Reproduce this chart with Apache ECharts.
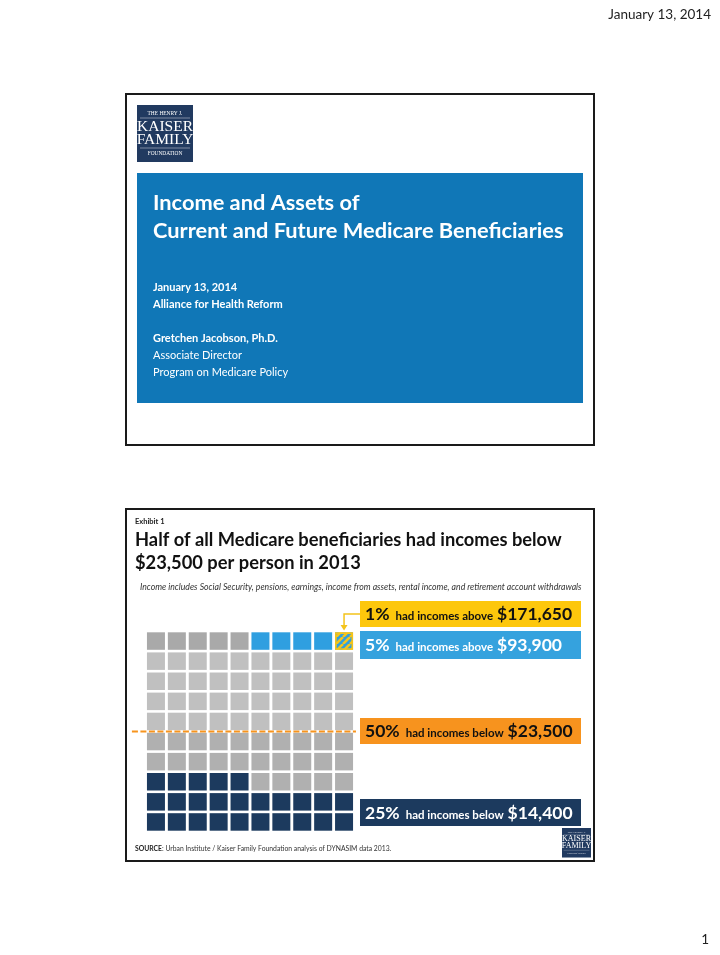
<!DOCTYPE html>
<html>
<head>
<meta charset="utf-8">
<script src="https://cdn.jsdelivr.net/npm/echarts@6/dist/echarts.min.js"></script>
<style>html,body{margin:0;padding:0;background:#fff}#c{width:720px;height:955px}</style>
</head>
<body>
<div id="c"></div>
<script>
// ---------- data ----------
const gridColumns = 10;
const gridRows = 10;
const segmentNames = ['Below $14,400', '$14,400 to $23,500', '$23,500 to $93,900', '$23,500 to $93,900 (top row)', 'Above $93,900', 'Above $171,650'];
const segmentCounts = [25, 25, 40, 5, 4, 1];
const medianShare = 50;
const calloutPercents = ['1%', '5%', '50%', '25%'];
const calloutPhrases = ['had incomes above', 'had incomes above', 'had incomes below', 'had incomes below'];
const calloutAmounts = ['$171,650', '$93,900', '$23,500', '$14,400'];

// ---------- styles ----------
const segmentColors = ['#1c3a5e', '#b0b0b0', '#c0c0c0', '#a9a9a9', '#2f9fe0', 'hatch'];
const calloutFills = ['#fdc70c', '#35a2de', '#f7931e', '#1c3a5e'];
const calloutText = ['#111', '#fff', '#111', '#fff'];
const calloutY = [601, 631, 718, 799];
const calloutH = [26, 28, 26, 27];
const F = 'Lato, "Open Sans", sans-serif';

// hatch pattern
const pc = document.createElement('canvas');
pc.width = 7; pc.height = 7;
const g = pc.getContext('2d');
g.fillStyle = '#2f9fe0'; g.fillRect(0, 0, 7, 7);
g.strokeStyle = '#f4c41b'; g.lineWidth = 2.6;
[[0,0],[7,0],[14,0]].forEach(function(o){ g.beginPath(); g.moveTo(o[0]-7, 7); g.lineTo(o[0], 0); g.stroke(); });
const hatch = {image: pc, repeat: 'repeat'};

// text measurement
const mctx = document.createElement('canvas').getContext('2d');
function measure(s, font) { mctx.font = font; return mctx.measureText(s).width; }

// build cells
const cells = [];
let idx = 0;
segmentCounts.forEach(function(cnt, s){
  for (let k = 0; k < cnt; k++) { cells.push([idx % gridColumns, Math.floor(idx / gridColumns), s]); idx++; }
});

function txt(x, y, s, font, fill, align) {
  return {type:'text', silent:true, style:{x:x, y:y, text:s, font:font, fill:fill,
    textAlign:align||'left', align:align||'left', textVerticalAlign:'middle', verticalAlign:'middle'}};
}
// place text by its baseline
function txtB(x, base, s, size, weight, fill, align) {
  return txt(x, base - 0.3 * size, s, (weight ? weight + ' ' : '') + size + 'px ' + F, fill, align);
}
function logo(x, y, w) {
  const k = w / 56;
  const c = '#ffffff';
  const sf = '"Liberation Serif", serif';
  return {type:'group', x:x, y:y, silent:true, children:[
    {type:'rect', shape:{x:0, y:0, width:w, height:57*k}, style:{fill:'#213a60'}},
    {type:'text', style:{x:28*k, y:9*k, text:'THE HENRY J.', font:(5.4*k)+'px ' + sf, fill:c, textAlign:'center', align:'center', textVerticalAlign:'middle', verticalAlign:'middle'}},
    {type:'line', shape:{x1:3*k, y1:13*k, x2:53*k, y2:13*k}, style:{stroke:c, lineWidth:0.6*k, opacity:0.7}},
    {type:'text', style:{x:28*k, y:21.5*k, text:'KAISER', font:(15.5*k)+'px ' + sf, fill:c, textAlign:'center', align:'center', textVerticalAlign:'middle', verticalAlign:'middle'}},
    {type:'text', style:{x:28*k, y:34.5*k, text:'FAMILY', font:(15.5*k)+'px ' + sf, fill:c, textAlign:'center', align:'center', textVerticalAlign:'middle', verticalAlign:'middle'}},
    {type:'line', shape:{x1:3*k, y1:43*k, x2:53*k, y2:43*k}, style:{stroke:c, lineWidth:0.6*k, opacity:0.7}},
    {type:'text', style:{x:28*k, y:49*k, text:'FOUNDATION', font:(5.4*k)+'px ' + sf, fill:c, textAlign:'center', align:'center', textVerticalAlign:'middle', verticalAlign:'middle'}}
  ]};
}

const graphics = [];
// page header / footer
graphics.push(txt(711, 15, 'January 13, 2014', '13.5px ' + F, '#222', 'right'));
graphics.push(txt(709, 940, '1', '13.5px ' + F, '#222', 'right'));
// slide 1
graphics.push({type:'rect', silent:true, shape:{x:126, y:94, width:468, height:351}, style:{fill:'none', stroke:'#1a1a1a', lineWidth:2}});
graphics.push(logo(137, 105, 56));
graphics.push({type:'rect', silent:true, shape:{x:137, y:173, width:446, height:230}, style:{fill:'#1077b7'}});
graphics.push(txtB(153, 210, 'Income and Assets of', 21.8, 'bold', '#fff'));
graphics.push(txtB(153, 238, 'Current and Future Medicare Beneficiaries', 21.8, 'bold', '#fff'));
graphics.push(txt(153, 287, 'January 13, 2014', 'bold 11px ' + F, '#fff'));
graphics.push(txt(153, 304, 'Alliance for Health Reform', 'bold 11px ' + F, '#fff'));
graphics.push(txt(153, 338, 'Gretchen Jacobson, Ph.D.', 'bold 11px ' + F, '#fff'));
graphics.push(txt(153, 355, 'Associate Director', '11px ' + F, '#fff'));
graphics.push(txt(153, 372, 'Program on Medicare Policy', '11px ' + F, '#fff'));
// slide 2
graphics.push({type:'rect', silent:true, shape:{x:126, y:509, width:468, height:352}, style:{fill:'none', stroke:'#1a1a1a', lineWidth:2}});
graphics.push(txt(135, 522, 'Exhibit 1', 'bold 7.5px ' + F, '#222'));
graphics.push(txtB(135, 546, 'Half of all Medicare beneficiaries had incomes below', 18.3, 'bold', '#111'));
graphics.push(txtB(135, 569, '$23,500 per person in 2013', 18.3, 'bold', '#111'));
graphics.push(txt(140, 587, 'Income includes Social Security, pensions, earnings, income from assets, rental income, and retirement account withdrawals', 'italic 8.7px ' + F, '#333'));
graphics.push({type:'text', silent:true, style:{x:135, y:849, text:'{b|SOURCE}{r|: Urban Institute / Kaiser Family Foundation analysis of DYNASIM data 2013.}',
  textVerticalAlign:'middle', verticalAlign:'middle',
  rich:{b:{fontFamily:F, fontSize:6.8, fontWeight:'bold', fill:'#222'}, r:{fontFamily:F, fontSize:6.8, fill:'#333'}}}});
graphics.push(logo(562, 828, 29));
// callouts
const bigSize = 17.5, smallSize = 11.5;
calloutPercents.forEach(function(p, i){
  graphics.push({type:'rect', silent:true, shape:{x:360, y:calloutY[i], width:221, height:calloutH[i]}, style:{fill:calloutFills[i]}});
  const base = calloutY[i] + calloutH[i] / 2 + 6;
  let x = 365;
  graphics.push(txtB(x, base, p, bigSize, 'bold', calloutText[i]));
  x += measure(p, 'bold ' + bigSize + 'px ' + F) + 6;
  graphics.push(txtB(x, base, calloutPhrases[i], smallSize, 'bold', calloutText[i]));
  x += measure(calloutPhrases[i], 'bold ' + smallSize + 'px ' + F) + 4;
  graphics.push(txtB(x, base, calloutAmounts[i], bigSize, 'bold', calloutText[i]));
});

const chart = echarts.init(document.getElementById('c'));
chart.setOption({
  backgroundColor:'#fff',
  animation:false,
  grid:{left:145.5, top:631, width:209, height:201, show:false},
  xAxis:{type:'value', min:0, max:gridColumns, show:false},
  yAxis:{type:'value', min:0, max:gridRows, show:false},
  graphic:{elements:graphics},
  series:[
    {type:'custom', name:'cells', clip:false, data:cells, encode:{x:0, y:1},
      renderItem:function(params, api){
        const c = api.coord([api.value(0) + 0.5, api.value(1) + 0.5]);
        const sz = api.size([1, 1]);
        const w = sz[0] - 2.9, h = sz[1] - 2.6;
        const shape = {x:c[0] - w/2, y:c[1] - h/2, width:w, height:h};
        const col = segmentColors[api.value(2)];
        if (col === 'hatch') {
          return {type:'group', children:[
            {type:'rect', shape:shape, style:{fill:hatch}},
            {type:'rect', shape:{x:shape.x + 0.8, y:shape.y + 0.8, width:w - 1.6, height:h - 1.6}, style:{fill:'none', stroke:'#f4c41b', lineWidth:1.6}}
          ]};
        }
        return {type:'rect', shape:shape, style:{fill:col}};
      }},
    {type:'custom', name:'median', clip:false, data:[[medianShare / gridColumns]],
      renderItem:function(params, api){
        const a = api.coord([-0.65, api.value(0)]);
        const b = api.coord([10.07, api.value(0)]);
        return {type:'line', shape:{x1:a[0], y1:a[1], x2:b[0], y2:b[1]}, style:{stroke:'#f7941d', lineWidth:2, lineDash:[6, 2.5]}};
      }}
  ]
});
// connector arrow from 1% callout to the top cell
const tip = chart.convertToPixel({gridIndex:0}, [gridColumns - 0.5, gridRows]);
chart.setOption({graphic:{elements:graphics.concat([
  {type:'polyline', silent:true, shape:{points:[[360, 614], [tip[0], 614], [tip[0], tip[1] - 4]]}, style:{fill:'none', stroke:'#f4c41b', lineWidth:1.5}},
  {type:'polygon', silent:true, shape:{points:[[tip[0] - 3.5, tip[1] - 6], [tip[0] + 3.5, tip[1] - 6], [tip[0], tip[1] - 0.5]]}, style:{fill:'#f4c41b'}}
])}});
</script>
</body>
</html>
